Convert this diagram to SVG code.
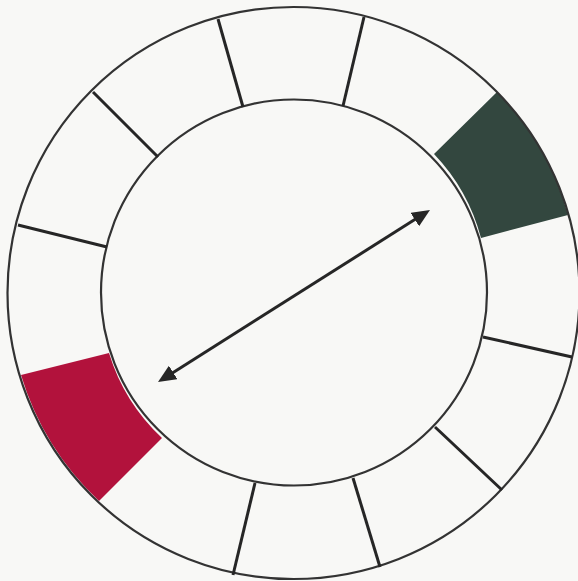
<svg xmlns="http://www.w3.org/2000/svg" width="578" height="581" viewBox="0 0 578 581">
  <style>
    .ring { fill: none; stroke: #333333; stroke-width: 2.2; }
    .div { stroke: #262626; stroke-width: 3; stroke-linecap: butt; }
    .arrow { stroke: #262626; stroke-width: 3; fill: none; }
  </style>
  <defs>
    <marker id="head" markerUnits="userSpaceOnUse" markerWidth="20" markerHeight="16" refX="7" refY="8" orient="auto-start-reverse">
      <path d="M0,0 L18,8 L0,16 Z" fill="#262626"/>
    </marker>
  </defs>
  <rect width="578" height="581" fill="#f8f8f6"/>
  <g id="segment-green">
    <path d="M497,92 A286,286 0 0 1 568,215 L481,238 A193,193 0 0 0 434,154 Z" fill="#33473f"/>
  </g>
  <g id="segment-red">
    <path d="M21,375 A286,286 0 0 0 99,501 L162,438 A193,193 0 0 1 109,353 Z" fill="#b2123c"/>
  </g>
  <g id="wheel">
    <circle class="ring" cx="293.5" cy="293" r="286"/>
    <circle class="ring" cx="294" cy="292.5" r="193"/>
  </g>
  <g id="dividers">
    <line class="div" x1="364" y1="17" x2="343" y2="106"/>
    <line class="div" x1="483" y1="337" x2="572" y2="357"/>
    <line class="div" x1="435" y1="427" x2="502" y2="490"/>
    <line class="div" x1="353" y1="478" x2="380" y2="567"/>
    <line class="div" x1="255" y1="483" x2="233" y2="575"/>
    <line class="div" x1="107" y1="247" x2="18" y2="225"/>
    <line class="div" x1="158" y1="157" x2="93" y2="92"/>
    <line class="div" x1="243" y1="107" x2="218" y2="19"/>
  </g>
  <g id="connectors">
    <line class="arrow" x1="167.3" y1="376.2" x2="420.7" y2="215.8" marker-start="url(#head)" marker-end="url(#head)"/>
  </g>
</svg>
